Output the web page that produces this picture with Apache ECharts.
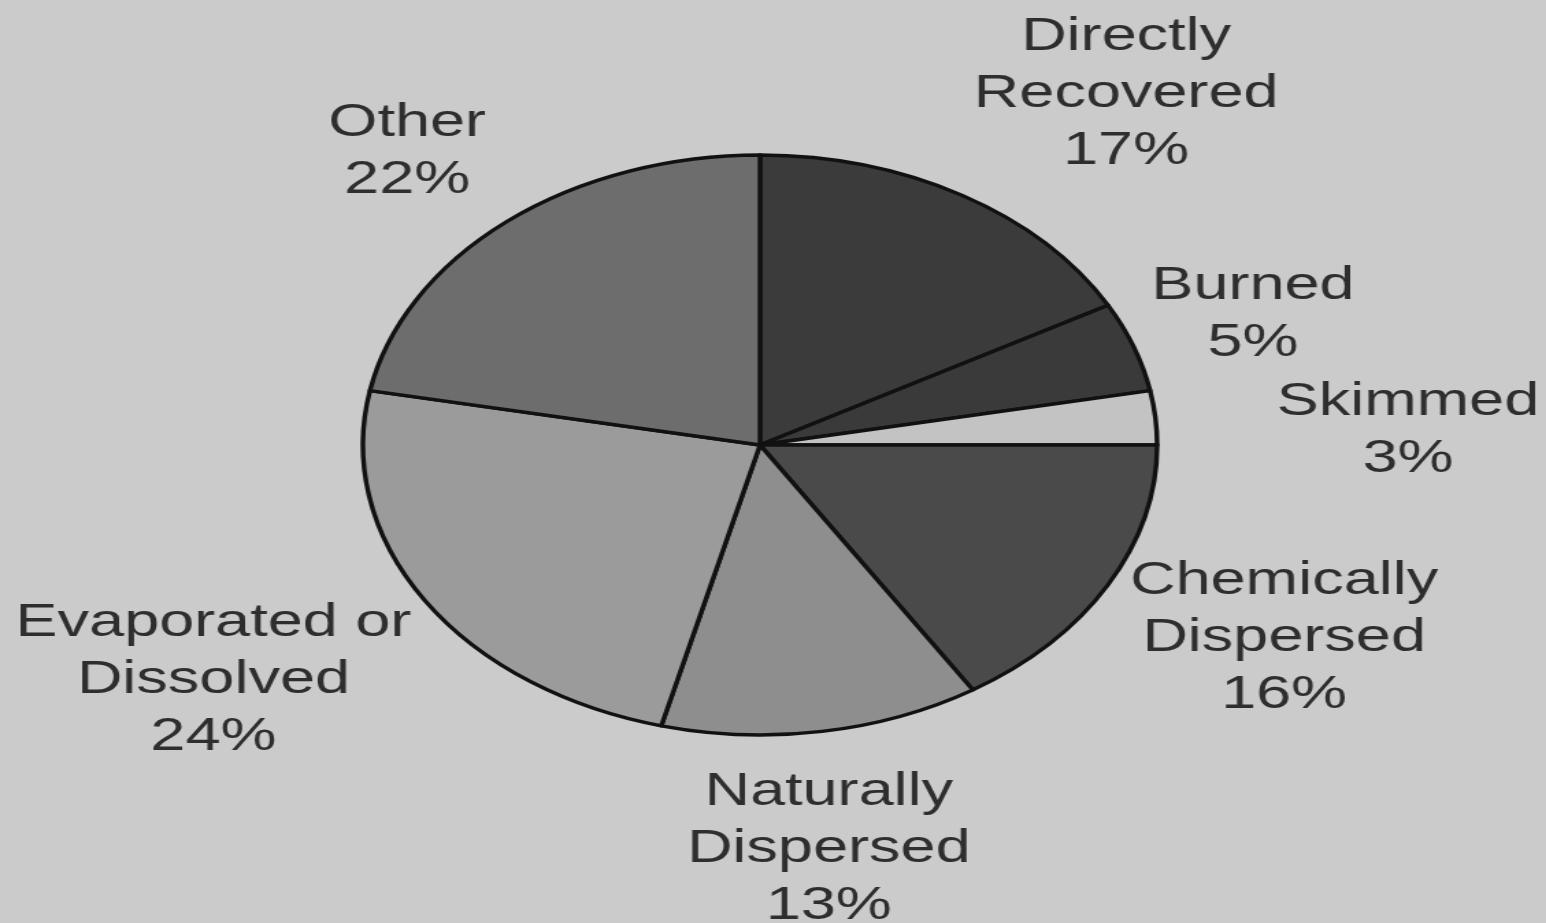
<!DOCTYPE html>
<html>
<head>
<meta charset="utf-8">
<script src="https://cdn.jsdelivr.net/npm/echarts/dist/echarts.min.js"></script>
<style>
html, body { margin:0; padding:0; background:#cbcbcb; overflow:hidden; width:1546px; height:923px; }
#c { width:1129px; height:923px; transform:scaleX(1.3694); transform-origin:0 0; }
</style>
</head>
<body>
<div id="c"></div>
<script>
// ---- data ----
const categories = ["Directly\nRecovered", "Burned", "Skimmed", "Chemically\nDispersed", "Naturally\nDispersed", "Evaporated or\nDissolved", "Other"];
const values = [17, 5, 3, 16, 13, 24, 22];

// ---- styles ----
const sliceColors = ["#3b3b3b", "#3a3a3a", "#c3c3c3", "#4a4a4a", "#8e8e8e", "#9b9b9b", "#6d6d6d"];
const labelNudge = [[52, 13], [-38, 13], [52, 26], [12, -10], [-16, -13], [-42, 9], [12, 33]];

const data = categories.map((n, i) => ({ name: n, value: values[i], itemStyle: { color: sliceColors[i] } }));
const ringData = categories.map((n, i) => ({ name: n, value: values[i] }));

const chart = echarts.init(document.getElementById('c'), null, { renderer: 'canvas' });
chart.setOption({
  backgroundColor: '#cbcbcb',
  animation: false,
  series: [
    {
      type: 'pie',
      center: [555, 445],
      radius: [0, 290],
      startAngle: 90,
      clockwise: true,
      silent: true,
      data: data,
      label: { show: false },
      labelLine: { show: false },
      itemStyle: { borderColor: '#111', borderWidth: 3.4 }
    },
    {
      type: 'pie',
      center: [555, 445],
      radius: [400, 440],
      startAngle: 90,
      clockwise: true,
      silent: true,
      data: ringData,
      itemStyle: { color: 'rgba(0,0,0,0)', borderWidth: 0 },
      labelLine: { show: false },
      label: {
        show: true,
        position: 'inside',
        formatter: '{b}\n{c}%',
        fontFamily: 'Liberation Sans',
        fontSize: 46,
        lineHeight: 57,
        color: '#2e2e2e',
        align: 'center'
      },
      labelLayout: function (p) {
        const o = labelNudge[p.dataIndex];
        return { dx: o[0], dy: o[1] };
      }
    }
  ]
});
</script>
</body>
</html>
